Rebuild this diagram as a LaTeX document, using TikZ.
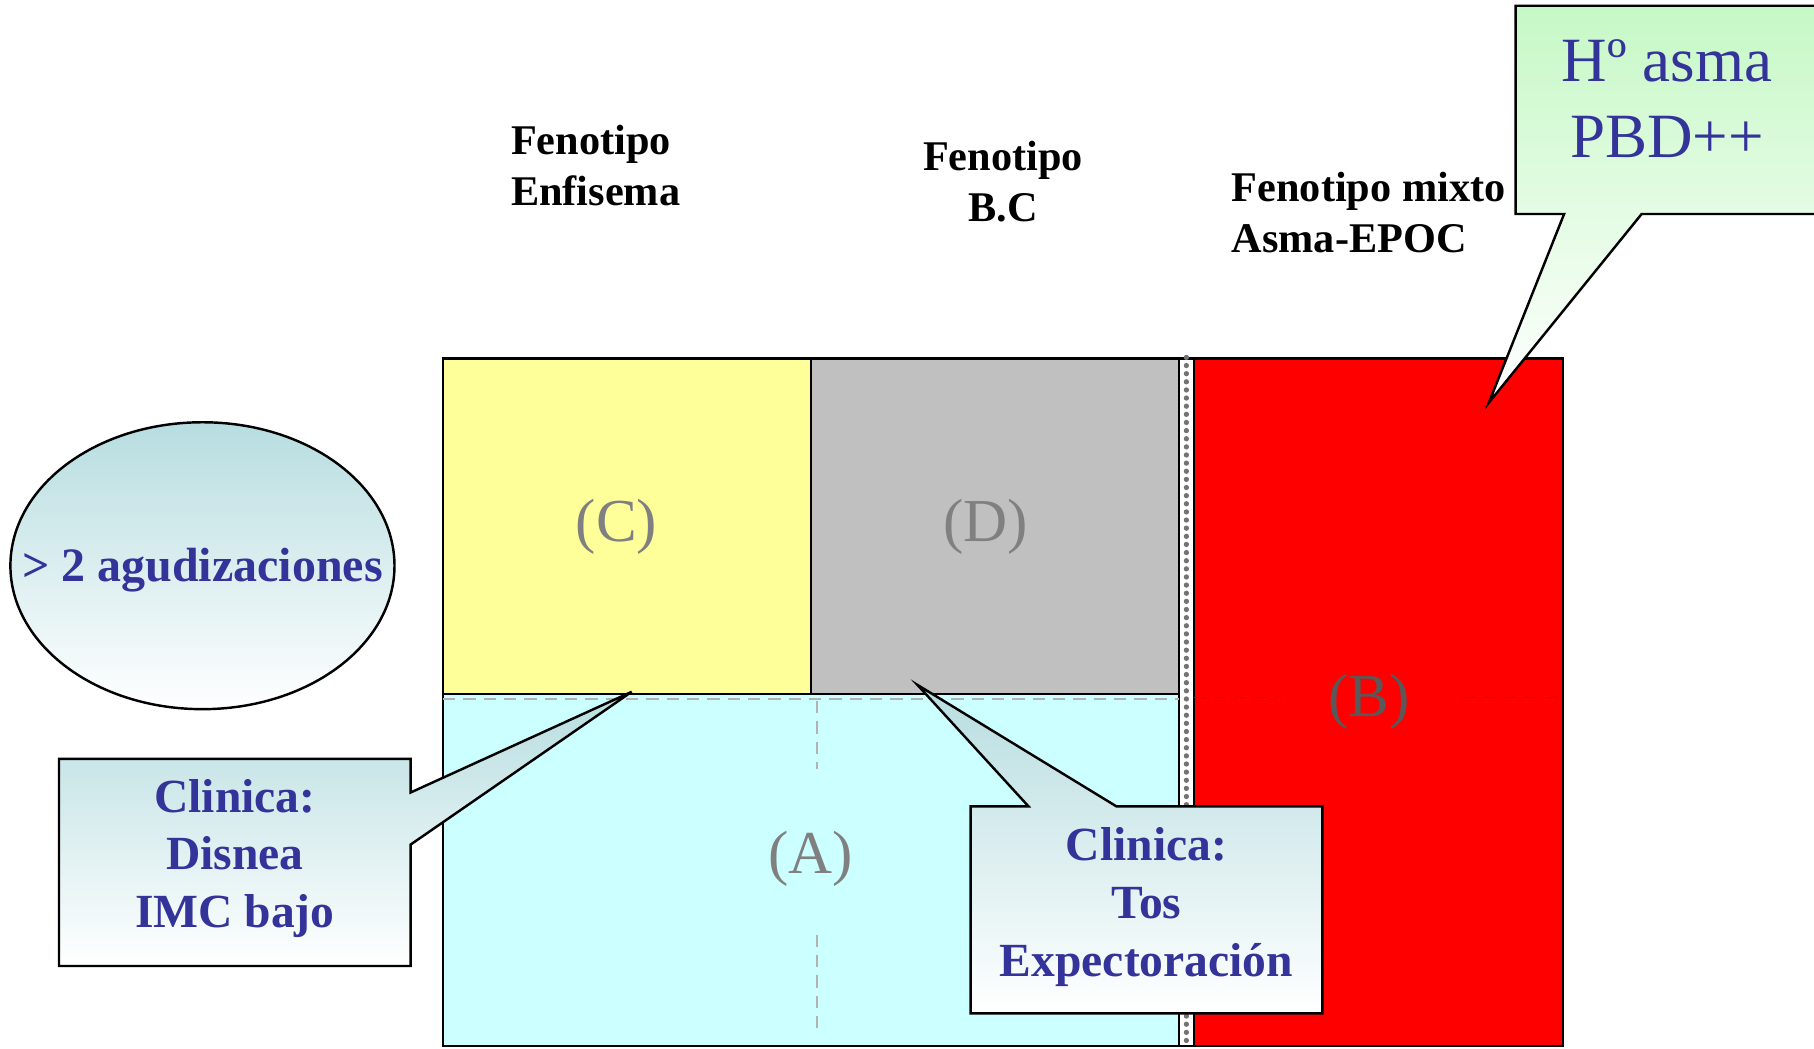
\documentclass[tikz,border=0pt]{standalone}
\usepackage{fontspec}
\setmainfont{Liberation Serif}
\usepackage{tikz}
\usetikzlibrary{shapes.geometric}
\definecolor{txtblue}{HTML}{333399}
\definecolor{cYellow}{HTML}{FFFF99}
\definecolor{cGray}{HTML}{C0C0C0}
\definecolor{cCyan}{HTML}{CCFFFF}
\definecolor{cRed}{HTML}{FF0000}
\definecolor{bTeal}{HTML}{B7DDE0}
\definecolor{bGreen}{HTML}{C6F8C6}

\begin{document}
\begin{tikzpicture}[x=0.1mm,y=-0.1mm,
  hdr/.style={font=\fontsize{10.4}{12.5}\selectfont\bfseries,inner sep=0pt},
  cell/.style={draw=black,line width=0.6pt,inner sep=0pt},
  lbl/.style={font=\fontsize{15}{18}\selectfont,text=black!50,inner sep=0pt},
  bubble/.style={draw=black,line width=0.6pt,top color=bTeal,bottom color=white},
  btxt/.style={font=\fontsize{11.7}{14.2}\selectfont\bfseries,text=txtblue,align=center,inner sep=0pt},
  artf/.style={densely dashed,line width=0.4pt}]
\useasboundingbox (0,0) rectangle (1568,906);
\clip (0,0) rectangle (1568,906);
% phenotype headings
\node[hdr,anchor=west,align=left] (hEnf) at (441,143) {Fenotipo\\Enfisema};
\node[hdr,align=center] (hBC) at (867,157) {Fenotipo\\B.C};
\node[hdr,anchor=west,align=left] (hMix) at (1064,184) {Fenotipo mixto\\Asma-EPOC};
% grid of groups
\node[cell,fill=cYellow,minimum width=31.8mm,minimum height=29mm] (cellC) at (542,455) {};
\node[cell,fill=cGray,minimum width=31.8mm,minimum height=29mm] (cellD) at (860,455) {};
\node[cell,fill=cCyan,minimum width=63.6mm,minimum height=30.4mm] (cellA) at (701,752) {};
\node[cell,fill=white,minimum width=1.3mm,minimum height=59.4mm] (strip) at (1025.5,607) {};
\node[cell,fill=cRed,minimum width=31.9mm,minimum height=59.4mm] (cellB) at (1191.5,607) {};
\draw[black!55,line width=1.3pt,line cap=round,dash pattern=on 0pt off 2pt] (strip.north) -- (strip.south);
\draw[artf,black!75] (1032,603) -- (1108,603);
\draw[artf,black!75] (1265,603) -- (1351,603);
\draw[artf,black!30] (383,604) -- (1019,604);
\draw[artf,black!30] (706,606) -- (706,665);
\draw[artf,black!30] (706,808) -- (706,890);
\node[lbl] (labC) at ([xshift=-0.9mm]cellC.center) {(C)};
\node[lbl] (labD) at ([xshift=-0.8mm]cellD.center) {(D)};
\node[lbl] (labA) at ([yshift=1mm]cellA.center) {(A)};
\node[lbl,text=black!65] (labB) at ([xshift=-0.8mm]cellB.center) {(B)};
% exacerbations
\node[ellipse,bubble,minimum width=33.2mm,minimum height=24.8mm] (agud) at (175,489) {};
\node[btxt,font=\fontsize{11.8}{14}\selectfont\bfseries] (agudTxt) at ([yshift=-0.4mm]agud.center) {> 2 agudizaciones};
% callouts
\coordinate (tipC) at (546,598);
\coordinate (tipD) at (793,592);
\coordinate (tipB) at (1287,348);
\draw[bubble] (51,656) -- (355,656) -- (355,685) -- (tipC) -- (355,730) -- (355,835) -- (51,835) -- cycle;
\node[btxt] (cliC) at (203,742) {Clinica:\\Disnea\\IMC bajo};
\draw[bubble] (839,697) -- (889,697) -- (tipD) -- (965,697) -- (1143,697) -- (1143,876) -- (839,876) -- cycle;
\node[btxt] (cliD) at (991,784) {Clinica:\\Tos\\Expectoración};
\draw[bubble,top color=bGreen] (1310,5) -- (1590,5) -- (1590,185) -- (1419,185) -- (tipB) -- (1352,185) -- (1310,185) -- cycle;
\node[font=\fontsize{15.5}{18.6}\selectfont,text=txtblue,align=center,inner sep=0pt] (asma) at (1441,85) {Hº asma\\PBD++};
\end{tikzpicture}
\end{document}
